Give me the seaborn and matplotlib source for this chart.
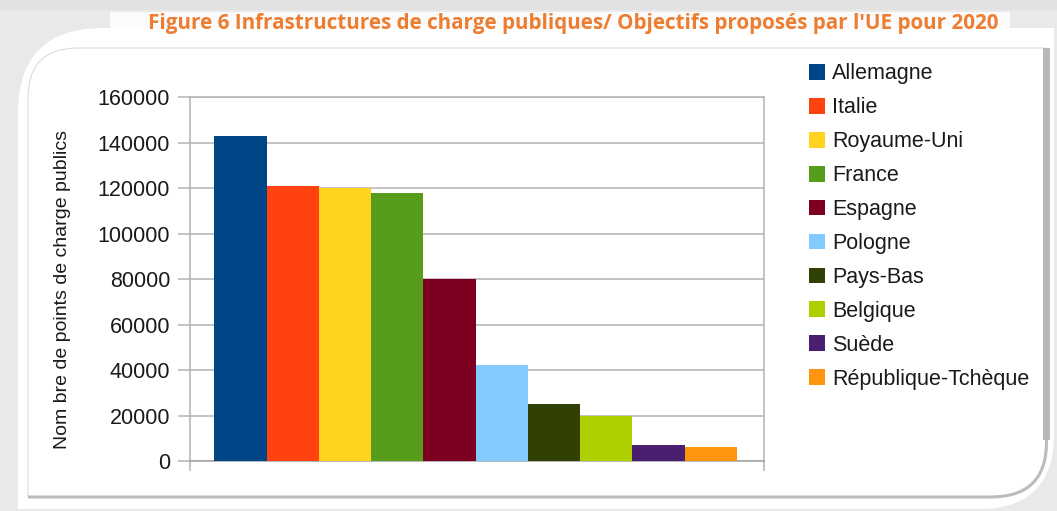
"""Figure 6: public charging points, EU proposed targets for 2020."""

import matplotlib.pyplot as plt
import seaborn as sns
from matplotlib.patches import PathPatch, Rectangle
from matplotlib.path import Path

countries = ["Allemagne", "Italie", "Royaume-Uni", "France", "Espagne",
             "Pologne", "Pays-Bas", "Belgique", "Suède", "République-Tchèque"]
points = [143000, 121000, 120000, 118000, 80000,
          42000, 25000, 20000, 7000, 6000]
colors = ["#004586", "#ff420e", "#ffd320", "#579d1c", "#7e0021",
          "#83caff", "#314004", "#aecf00", "#4b1f6f", "#ff950e"]
y_ticks = [0, 20000, 40000, 60000, 80000, 100000, 120000, 140000, 160000]

title = "Figure 6 Infrastructures de charge publiques/ Objectifs proposés par l'UE pour 2020"
y_label = "Nom bre de points de charge publics"

W, H = 1057, 511
GRID = "#b3b3b3"


def px(x, y, w, h):
    # pixel box (top-left origin) -> figure fractions
    return x / W, 1 - (y + h) / H, w / W, h / H


def pt(x, y):
    return x / W, 1 - y / H


def card_path(x0, y0, x1, y1, r_tl, r_br):
    # rectangle with only the top-left and bottom-right corners rounded
    verts = [pt(x0, y0 + r_tl), pt(x0, y1), pt(x1 - r_br, y1),
             pt(x1, y1), pt(x1, y1 - r_br), pt(x1, y0), pt(x0 + r_tl, y0),
             pt(x0, y0), pt(x0, y0 + r_tl), pt(x0, y0 + r_tl)]
    codes = [Path.MOVETO, Path.LINETO, Path.LINETO,
             Path.CURVE3, Path.CURVE3, Path.LINETO, Path.LINETO,
             Path.CURVE3, Path.CURVE3, Path.CLOSEPOLY]
    return Path(verts, codes)


def draw_frame(fig):
    fig.patch.set_facecolor("#e9e9e9")
    x, y, w, h = px(0, 0, W, 10)
    fig.patches.append(Rectangle((x, y), w, h, transform=fig.transFigure,
                                 facecolor="#e2e2e2", edgecolor="none", zorder=-4))
    x, y, w, h = px(110, 12, 900, 18)
    fig.patches.append(Rectangle((x, y), w, h, transform=fig.transFigure,
                                 facecolor="#fbfbfb", edgecolor="none", zorder=-3))
    fig.patches.append(PathPatch(card_path(18, 28, 1054, 509, 85, 75),
                                 transform=fig.transFigure, facecolor="white",
                                 edgecolor="none", zorder=-3))
    fig.patches.append(PathPatch(card_path(28, 48, 1046, 497, 50, 55),
                                 transform=fig.transFigure, facecolor="none",
                                 edgecolor="#d6d6d6", linewidth=0.7, zorder=-2))
    shade = Path([pt(1046.5, 48), pt(1046.5, 442), pt(1046.5, 497), pt(991, 497),
                  pt(28, 497)],
                 [Path.MOVETO, Path.LINETO, Path.CURVE3, Path.CURVE3, Path.LINETO])
    fig.patches.append(PathPatch(shade, transform=fig.transFigure,
                                 facecolor="none", edgecolor="#bcbcbc",
                                 linewidth=2.2, zorder=-2))
    x, y, w, h = px(1043, 48, 7, 392)
    fig.patches.append(Rectangle((x, y), w, h, transform=fig.transFigure,
                                 facecolor="#b8b8b8", edgecolor="none", zorder=-2))


def plot_chart():
    sns.set_style("white")
    plt.rcParams["font.family"] = ["Liberation Sans", "DejaVu Sans"]

    fig = plt.figure(figsize=(W / 100, H / 100), dpi=100)
    draw_frame(fig)

    ax = fig.add_axes(px(189.6, 97, 574.4, 364))
    sns.barplot(x=countries, y=points, hue=countries, palette=colors,
                width=1, saturation=1, dodge=False, legend=True, ax=ax,
                linewidth=0, zorder=3)

    ax.set_xlim(-0.975, 10.02)
    ax.set_ylim(0, 160000)
    ax.set_yticks(y_ticks, labels=[str(v) for v in y_ticks])
    ax.set_xticks([-0.975, 10.02], labels=["", ""])
    ax.tick_params(axis="y", length=8.6, width=1.1, color=GRID, pad=5.5,
                   labelsize=15.5, labelcolor="#1a1a1a", left=True)
    ax.tick_params(axis="x", length=7, width=1.1, color=GRID, bottom=True)
    ax.grid(axis="y", color=GRID, linewidth=1.1, zorder=0)
    ax.set_axisbelow(True)
    for side in ax.spines.values():
        side.set_visible(True)
        side.set_color(GRID)
        side.set_linewidth(1.1)
    ax.spines["bottom"].set_color("#a0a0a0")

    ax.set_ylabel(y_label, fontsize=14, color="#1a1a1a")
    ax.yaxis.set_label_coords(-0.207, 0.47)

    handles, labels = ax.get_legend_handles_labels()
    ax.get_legend().remove()
    fig.legend(handles, labels, loc="upper left", bbox_to_anchor=(0.7555, 0.897),
               frameon=False, fontsize=15.5, labelspacing=0.6,
               handlelength=0.75, handleheight=0.75, handletextpad=0.3,
               borderpad=0, labelcolor="#1a1a1a")

    fig.text(0.542, 1 - 23 / H, title, ha="center", va="center",
             fontsize=14.9, fontweight="bold", color="#ed7d31",
             family=["Open Sans", "DejaVu Sans"])

    fig.savefig("out.png", dpi=100, facecolor=fig.get_facecolor())
    plt.close(fig)


if __name__ == "__main__":
    plot_chart()
